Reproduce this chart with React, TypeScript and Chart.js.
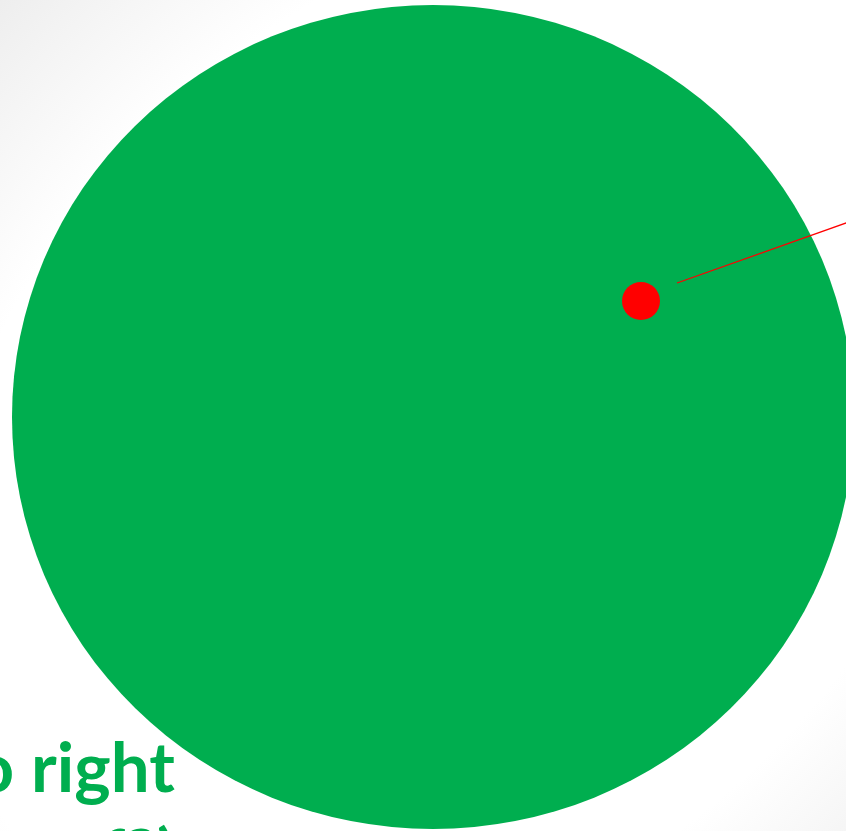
import React, { useEffect, useRef } from "react";
import { Chart, registerables } from "chart.js";

Chart.register(...registerables);

// Data (in slide pixel units used by the linear scales)
const xRange = [0, 846];
const yRange = [0, 831];
const circleCenter = [433, 417];
const circleRadii = [421, 412];
const dotX = [641];
const dotY = [301];
const lineX = [677, 900];
const lineY = [283, 203.8];
const captionLines = ["left to right", "(from f?)"];

const GREEN = "#00ae4f";
const RED = "#ff0000";

const backgroundPlugin = {
  id: "slideBackground",
  beforeDraw(chart: any) {
    const { ctx, width, height } = chart;
    ctx.save();
    ctx.fillStyle = "#ffffff";
    ctx.fillRect(0, 0, width, height);
    ctx.translate(460, 440);
    ctx.rotate(-Math.PI / 4);
    ctx.scale(1.35, 1);
    const g = ctx.createRadialGradient(0, 0, 440, 0, 0, 680);
    g.addColorStop(0, "#ffffff");
    g.addColorStop(1, "#eaeaea");
    ctx.fillStyle = g;
    ctx.fillRect(-1500, -1500, 3000, 3000);
    ctx.restore();
  },
};

const ellipsePlugin = {
  id: "bigEllipse",
  beforeDatasetsDraw(chart: any) {
    const { ctx, scales } = chart;
    const xs = scales.x;
    const ys = scales.y;
    const cx = xs.getPixelForValue(circleCenter[0]);
    const cy = ys.getPixelForValue(circleCenter[1]);
    const rx = Math.abs(xs.getPixelForValue(circleCenter[0] + circleRadii[0]) - cx);
    const ry = Math.abs(ys.getPixelForValue(circleCenter[1] + circleRadii[1]) - cy);
    ctx.save();
    ctx.beginPath();
    ctx.ellipse(cx, cy, rx, ry, 0, 0, Math.PI * 2);
    ctx.fillStyle = GREEN;
    ctx.fill();
    ctx.restore();
  },
};

const captionPlugin = {
  id: "caption",
  afterDraw(chart: any) {
    const { ctx } = chart;
    ctx.save();
    ctx.font = "bold 69px Lato";
    ctx.fillStyle = GREEN;
    ctx.textBaseline = "alphabetic";
    const w1 = ctx.measureText("left to ").width;
    ctx.fillText(captionLines[0], 31 - w1, 792);
    const w2 = ctx.measureText("(from f?").width;
    ctx.fillText(captionLines[1], 157 - w2, 879);
    ctx.restore();
  },
};

export default function App() {
  const canvasRef = useRef<HTMLCanvasElement | null>(null);

  useEffect(() => {
    document.body.style.margin = "0";
    let chart: Chart | null = null;
    let cancelled = false;
    const make = () => {
      if (cancelled || !canvasRef.current) return;
      chart = new Chart(canvasRef.current, {
        type: "scatter",
        data: {
          datasets: [
            {
              type: "line",
              label: "pointer",
              data: lineX.map((x, i) => ({ x, y: lineY[i] })),
              borderColor: RED,
              borderWidth: 1.3,
              pointRadius: 0,
              showLine: true,
              fill: false,
            } as any,
            {
              label: "dot",
              data: dotX.map((x, i) => ({ x, y: dotY[i] })),
              backgroundColor: RED,
              borderColor: RED,
              borderWidth: 0,
              pointRadius: 19,
            },
          ],
        },
        options: {
          responsive: false,
          maintainAspectRatio: false,
          animation: false,
          layout: { padding: 0, autoPadding: false },
          plugins: {
            legend: { display: false },
            tooltip: { enabled: false },
          },
          scales: {
            x: { type: "linear", min: xRange[0], max: xRange[1], display: false },
            y: { type: "linear", min: yRange[0], max: yRange[1], reverse: true, display: false },
          },
        },
        plugins: [backgroundPlugin, ellipsePlugin, captionPlugin],
      });
    };
    const fontsAny = (document as any).fonts;
    if (fontsAny && fontsAny.load) {
      fontsAny.load("bold 69px Lato").then(make, make);
    } else {
      make();
    }
    return () => {
      cancelled = true;
      if (chart) chart.destroy();
    };
  }, []);

  return (
    <div style={{ width: 846, height: 831, position: "relative", overflow: "hidden" }}>
      <canvas ref={canvasRef} width={846} height={831} style={{ display: "block", width: 846, height: 831 }} />
    </div>
  );
}
